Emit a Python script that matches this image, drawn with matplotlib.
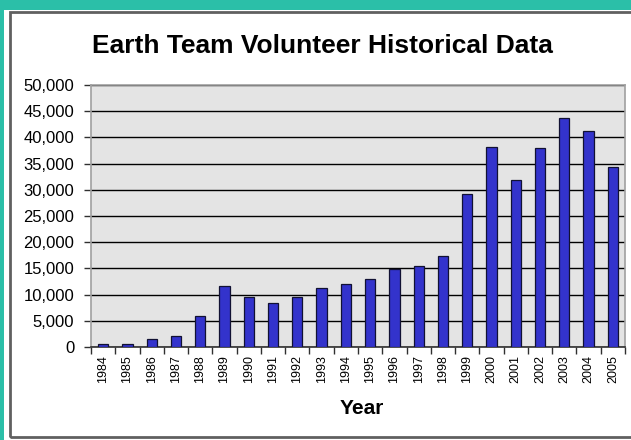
import matplotlib
matplotlib.use("Agg")
import matplotlib.pyplot as plt
from matplotlib.patches import Rectangle
from matplotlib.ticker import FuncFormatter, MultipleLocator, FixedLocator

years = ["1984", "1985", "1986", "1987", "1988", "1989", "1990", "1991", "1992", "1993", "1994",
         "1995", "1996", "1997", "1998", "1999", "2000", "2001", "2002", "2003", "2004", "2005"]
volunteers = [500, 500, 1600, 2100, 6000, 11600, 9500, 8400, 9500, 11200, 12100,
              12900, 14800, 15400, 17300, 29200, 38200, 31900, 38000, 43700, 41200, 34400]

W, H = 631, 440
fig = plt.figure(figsize=(W / 100, H / 100), dpi=100)
fig.patch.set_facecolor("white")

teal = "#2BBFA8"
# teal frame (top and left)
fig.patches.append(Rectangle((0, 1 - 10 / H), 1, 10 / H, transform=fig.transFigure,
                             facecolor=teal, edgecolor="none", zorder=0))
fig.patches.append(Rectangle((0, 0), 3.5 / W, 1, transform=fig.transFigure,
                             facecolor=teal, edgecolor="none", zorder=0))
# gray chart box
fig.patches.append(Rectangle((10 / W, 1 - 437 / H), 1.2, (437 - 12) / H, transform=fig.transFigure,
                             facecolor="none", edgecolor="#606060", linewidth=2.0, zorder=1))

ax = fig.add_axes([91 / W, 1 - 347 / H, (625 - 91) / W, (347 - 85) / H])
ax.set_facecolor("#E4E4E4")

x = list(range(len(years)))
ax.bar(x, volunteers, width=0.42, color="#3333CC", edgecolor="#111133", linewidth=0.9, zorder=3)

ax.set_xlim(-0.5, len(years) - 0.5)
ax.set_ylim(0, 50000)
ax.yaxis.set_major_locator(MultipleLocator(5000))
ax.yaxis.set_major_formatter(FuncFormatter(lambda v, p: f"{int(v):,}"))
ax.grid(axis="y", color="black", linewidth=1.0, zorder=1)
ax.set_axisbelow(True)

ax.set_xticks(x)
ax.set_xticklabels(years, rotation=90, fontsize=9, family="Liberation Sans")
ax.xaxis.set_minor_locator(FixedLocator([i + 0.5 for i in range(-1, len(years))]))
ax.tick_params(axis="x", which="major", length=0, pad=6)
ax.tick_params(axis="x", which="minor", length=5, width=1, color="#303030", direction="out")
ax.tick_params(axis="y", length=5, width=1, color="#303030", labelsize=12, pad=7)
for lab in ax.get_yticklabels():
    lab.set_family("Liberation Sans")

for side in ["top", "right", "left"]:
    ax.spines[side].set_color("#A0A0A0")
    ax.spines[side].set_linewidth(1.2)
ax.spines["bottom"].set_color("#303030")
ax.spines["bottom"].set_linewidth(1.2)

fig.text(322 / W, 1 - 46 / H, "Earth Team Volunteer Historical Data", ha="center", va="center",
         fontsize=19, fontweight="bold", family="Liberation Sans")
fig.text(362 / W, 1 - 408 / H, "Year", ha="center", va="center",
         fontsize=15, fontweight="bold", family="Liberation Sans")

fig.savefig("out.png", dpi=100)
